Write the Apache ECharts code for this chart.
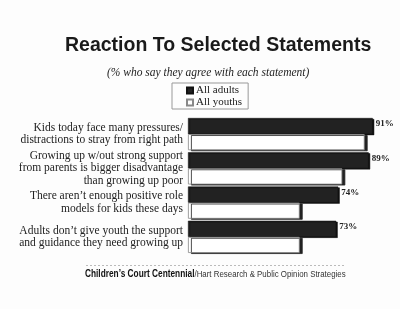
<!DOCTYPE html>
<html>
<head>
<meta charset="utf-8">
<script src="https://cdn.jsdelivr.net/npm/echarts@6/dist/echarts.min.js"></script>
<style>
html,body{margin:0;padding:0;background:#fdfdfd;}
#c{width:400px;height:309px;}
</style>
</head>
<body>
<div id="c"></div>
<script>
var categories = [
  "Kids today face many pressures/\ndistractions to stray from right path",
  "Growing up w/out strong support\nfrom parents is bigger disadvantage\nthan growing up poor",
  "There aren\u2019t enough positive role\nmodels for kids these days",
  "Adults don\u2019t give youth the support\nand guidance they need growing up"
];
var adults = [91, 89, 74, 73];
var youths = [87, 76, 55, 55];
var seriesNames = ["All adults", "All youths"];

var chart = echarts.init(document.getElementById('c'), null, {renderer: 'canvas'});
var serif = '"Liberation Serif", "DejaVu Serif", serif';
var sans = '"Liberation Sans", Arial, sans-serif';
chart.setOption({
  backgroundColor: '#fdfdfd',
  animation: false,
  title: [
    {text: 'Reaction To Selected Statements', left: 60, top: 31,
     textStyle: {fontFamily: sans, fontWeight: 'bold', fontSize: 19.5, color: '#1a1a1a'}},
    {text: '(% who say they agree with each statement)', left: 102, top: 62,
     textStyle: {fontFamily: serif, fontStyle: 'italic', fontWeight: 'normal', fontSize: 11.5, color: '#222'}}
  ],
  legend: {
    orient: 'vertical', left: 172, top: 83,
    data: seriesNames,
    borderColor: '#999', borderWidth: 1, borderRadius: 0,
    padding: [2, 6, 1, 14], itemGap: 1,
    itemWidth: 6, itemHeight: 6, icon: 'rect',
    textStyle: {fontFamily: serif, fontSize: 11, color: '#222', padding: [0, 0, 0, -2]}
  },
  grid: {left: 188, right: 9, top: 117, bottom: 55, containLabel: false},
  xAxis: {type: 'value', min: 0, max: 100, show: false},
  yAxis: {
    type: 'category', data: categories, inverse: true,
    axisLine: {show: false}, axisTick: {show: false},
    axisLabel: {fontFamily: serif, fontSize: 11.5, color: '#222', lineHeight: 12.3, margin: 5, align: 'right'}
  },
  series: [
    {name: seriesNames[0], type: 'bar', data: adults, barGap: '0%', barCategoryGap: '6%',
     itemStyle: {color: '#222', borderColor: '#111', borderWidth: 0.5,
       shadowColor: '#111', shadowOffsetX: 1.5, shadowOffsetY: 1, shadowBlur: 0},
     label: {show: true, position: 'right', distance: 3, offset: [0, -2], formatter: '{c}%',
       fontFamily: serif, fontWeight: 'bold', fontSize: 9, color: '#222'}},
    {name: seriesNames[1], type: 'bar', data: youths,
     itemStyle: {color: '#fff', borderColor: '#888', borderWidth: 0.8,
       shadowColor: '#222', shadowOffsetX: 3, shadowOffsetY: 1, shadowBlur: 0}}
  ],
  graphic: [
    {type: 'line', shape: {x1: 86, y1: 265.5, x2: 346, y2: 265.5},
     style: {stroke: '#bbb', lineWidth: 1, lineDash: [2, 2]}},
    {type: 'text', x: 85, y: 269, scaleX: 0.83, scaleY: 1,
     style: {text: '{b|Children\u2019s Court Centennial}{n|/Hart Research & Public Opinion Strategies}',
       rich: {
         b: {fontFamily: sans, fontWeight: 'bold', fontSize: 10, fill: '#111'},
         n: {fontFamily: sans, fontSize: 9.5, fill: '#333'}
       }}}
  ]
});
</script>
</body>
</html>
